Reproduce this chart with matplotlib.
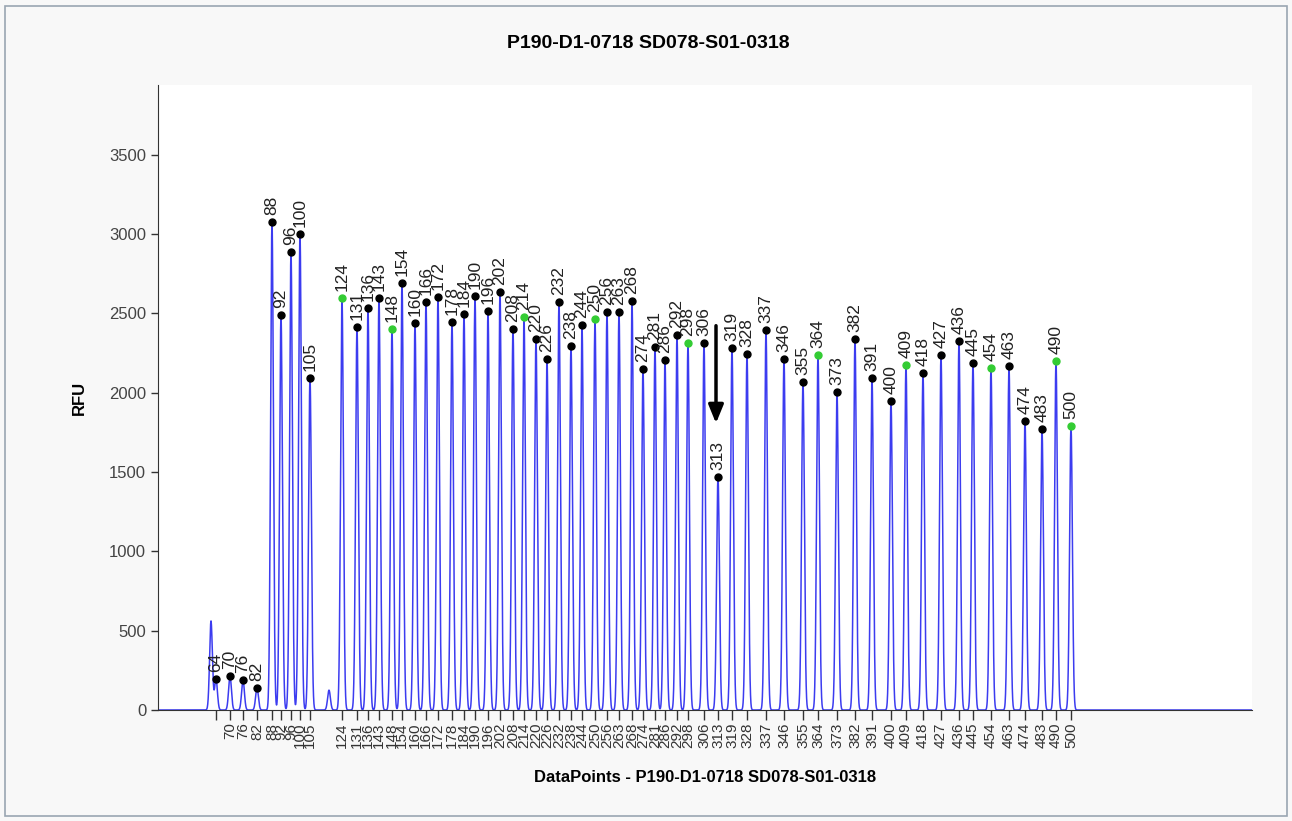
import numpy as np
import matplotlib
matplotlib.use("Agg")
import matplotlib.pyplot as plt
from matplotlib.patches import Rectangle

# peak sizes (bp), scan positions (data points) and heights (RFU)
sizes = [64, 70, 76, 82, 88, 92, 96, 100, 105,
         124, 131, 136, 143, 148, 154, 160, 166, 172, 178, 184, 190, 196, 202,
         208, 214, 220, 226, 232, 238, 244, 250, 256, 263, 268, 274, 281, 286,
         292, 298, 306, 313, 319, 328, 337, 346, 355, 364, 373, 382, 391, 400,
         409, 418, 427, 436, 445, 454, 463, 474, 483, 490, 500]
posicoes = [216, 230, 243, 257, 272, 281, 291, 300, 310,
            342, 357, 368, 379, 392, 402, 415, 426, 438, 452, 464, 475, 488, 500,
            513, 524, 536, 547, 559, 571, 582, 595, 607, 619, 632, 643, 655, 665,
            677, 688, 704, 718, 732, 747, 766, 784, 803, 818, 837, 855, 872, 891,
            906, 923, 941, 959, 973, 991, 1009, 1025, 1042, 1056, 1071]
alturas = [196, 214, 189, 139, 3077, 2491, 2888, 3002, 2094,
           2598, 2415, 2535, 2598, 2403, 2693, 2440, 2573, 2604, 2447, 2497, 2611, 2516, 2636,
           2403, 2478, 2340, 2214, 2573, 2296, 2428, 2466, 2510, 2510, 2579, 2150, 2289, 2207,
           2365, 2314, 2314, 1469, 2283, 2245, 2396, 2214, 2068, 2239, 2005, 2340, 2094, 1949,
           2176, 2125, 2239, 2327, 2188, 2157, 2169, 1823, 1772, 2201, 1791]
verdes = [124, 148, 214, 250, 298, 364, 409, 454, 490, 500]

# peaks without a size call
extra_pos = [211, 329]
extra_alt = [561, 125]

titulo = "P190-D1-0718 SD078-S01-0318"

fig = plt.figure(figsize=(12.92, 8.21), dpi=100, facecolor="#f8f8f8")
ax = fig.add_axes([158/1292, 1 - 710/821, (1252 - 158)/1292, (710 - 85)/821])
ax.set_facecolor("white")

# trace
xs = np.linspace(150, 1252, 8000)
ys = np.zeros_like(xs)
for p, h in zip(posicoes + extra_pos, alturas + extra_alt):
    ys += h * np.exp(-0.5 * ((xs - p) / 1.4) ** 2)
ax.plot(xs, ys, color="#3c3cf0", lw=1.1, zorder=2)

# called peaks
for s, p, h in zip(sizes, posicoes, alturas):
    cor = "#33cc33" if s in verdes else "black"
    ax.plot(p, h, "o", ms=5, color=cor, zorder=3)
    ax.annotate(str(s), (p, h), xytext=(0, 5), textcoords="offset points",
                rotation=90, ha="center", va="bottom", fontsize=12.5,
                color="#222222", family="Liberation Sans")

# arrow at 313
ax.annotate("", xy=(716, 1790), xytext=(716, 2440),
            arrowprops=dict(arrowstyle="-|>,head_width=0.45,head_length=1.1",
                            color="black", lw=2.5))

ax.set_xlim(158, 1252)
ax.set_ylim(0, 3940)
ax.set_yticks(np.arange(0, 3501, 500))
ax.set_xticks(posicoes)
ax.set_xticklabels([""] + [str(s) for s in sizes[1:]], rotation=90,
                   fontsize=11, color="#333333", family="Liberation Sans")
ax.tick_params(axis="x", length=7, width=1, color="#333333", pad=2)
ax.tick_params(axis="y", length=5, width=1, color="#333333", labelsize=12,
               labelcolor="#444444")
for lab in ax.get_yticklabels():
    lab.set_family("Liberation Sans")
for s in ["top", "right"]:
    ax.spines[s].set_visible(False)
for s in ["left", "bottom"]:
    ax.spines[s].set_color("#333333")

ax.set_ylabel("RFU", fontsize=12, fontweight="bold", family="Liberation Sans", labelpad=16)
ax.set_xlabel("DataPoints - " + titulo, fontsize=12, fontweight="bold",
              family="Liberation Sans")
ax.xaxis.set_label_coords((705 - 158) / (1252 - 158), -(770 - 710) / (710 - 85))

fig.text(648/1292, 1 - 43/821, titulo, ha="center", va="center", fontsize=14,
         fontweight="bold",
         family=["Liberation Sans Narrow", "DejaVu Sans Condensed", "Liberation Sans"])

fig.patches.append(Rectangle((5/1292, 5/821), 1282/1292, 810/821,
                             transform=fig.transFigure, fill=False,
                             edgecolor="#9aa6b2", lw=1.2))

fig.savefig("out.png", dpi=100, facecolor=fig.get_facecolor())
